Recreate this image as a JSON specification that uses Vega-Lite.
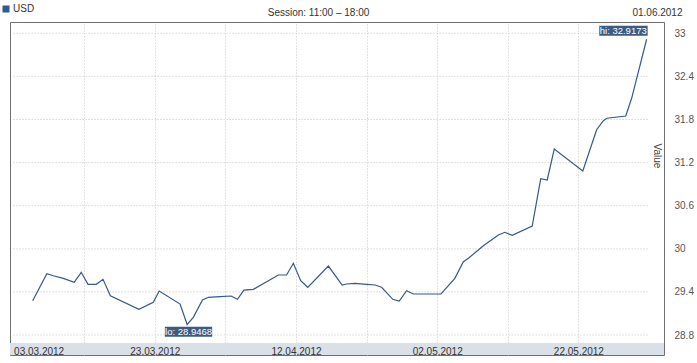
{
  "$schema": "https://vega.github.io/schema/vega-lite/v6.json",
  "width": 654,
  "height": 333,
  "autosize": "none",
  "padding": {"left": 10, "top": 22, "right": 33, "bottom": 8},
  "background": "white",
  "config": {
    "font": "Liberation Sans",
    "view": {"stroke": "#6e6e6e", "strokeWidth": 1}
  },
  "datasets": {
    "usd": [
      {"date": "2012-03-05T17:00:00", "value": 29.277, "currency": "USD"},
      {"date": "2012-03-07T17:00:00", "value": 29.653, "currency": "USD"},
      {"date": "2012-03-08T15:00:00", "value": 29.625, "currency": "USD"},
      {"date": "2012-03-10T01:00:00", "value": 29.589, "currency": "USD"},
      {"date": "2012-03-11T14:00:00", "value": 29.533, "currency": "USD"},
      {"date": "2012-03-12T14:00:00", "value": 29.673, "currency": "USD"},
      {"date": "2012-03-13T13:00:00", "value": 29.506, "currency": "USD"},
      {"date": "2012-03-14T17:00:00", "value": 29.506, "currency": "USD"},
      {"date": "2012-03-15T16:00:00", "value": 29.575, "currency": "USD"},
      {"date": "2012-03-16T17:00:00", "value": 29.347, "currency": "USD"},
      {"date": "2012-03-20T18:00:00", "value": 29.158, "currency": "USD"},
      {"date": "2012-03-22T19:00:00", "value": 29.255, "currency": "USD"},
      {"date": "2012-03-23T15:00:00", "value": 29.412, "currency": "USD"},
      {"date": "2012-03-26T14:00:00", "value": 29.231, "currency": "USD"},
      {"date": "2012-03-27T14:00:00", "value": 28.9468, "currency": "USD"},
      {"date": "2012-03-28T11:00:00", "value": 29.046, "currency": "USD"},
      {"date": "2012-03-29T18:00:00", "value": 29.287, "currency": "USD"},
      {"date": "2012-03-30T14:00:00", "value": 29.325, "currency": "USD"},
      {"date": "2012-04-01T06:00:00", "value": 29.333, "currency": "USD"},
      {"date": "2012-04-02T19:00:00", "value": 29.343, "currency": "USD"},
      {"date": "2012-04-03T17:00:00", "value": 29.297, "currency": "USD"},
      {"date": "2012-04-04T15:00:00", "value": 29.426, "currency": "USD"},
      {"date": "2012-04-05T23:00:00", "value": 29.436, "currency": "USD"},
      {"date": "2012-04-09T12:00:00", "value": 29.635, "currency": "USD"},
      {"date": "2012-04-10T16:00:00", "value": 29.635, "currency": "USD"},
      {"date": "2012-04-11T15:00:00", "value": 29.798, "currency": "USD"},
      {"date": "2012-04-12T16:00:00", "value": 29.556, "currency": "USD"},
      {"date": "2012-04-13T16:00:00", "value": 29.464, "currency": "USD"},
      {"date": "2012-04-16T14:00:00", "value": 29.760, "currency": "USD"},
      {"date": "2012-04-18T13:00:00", "value": 29.496, "currency": "USD"},
      {"date": "2012-04-19T04:00:00", "value": 29.510, "currency": "USD"},
      {"date": "2012-04-20T09:00:00", "value": 29.520, "currency": "USD"},
      {"date": "2012-04-22T00:00:00", "value": 29.506, "currency": "USD"},
      {"date": "2012-04-23T05:00:00", "value": 29.496, "currency": "USD"},
      {"date": "2012-04-24T03:00:00", "value": 29.464, "currency": "USD"},
      {"date": "2012-04-25T17:00:00", "value": 29.297, "currency": "USD"},
      {"date": "2012-04-26T15:00:00", "value": 29.273, "currency": "USD"},
      {"date": "2012-04-27T16:00:00", "value": 29.417, "currency": "USD"},
      {"date": "2012-04-28T15:00:00", "value": 29.371, "currency": "USD"},
      {"date": "2012-05-02T13:00:00", "value": 29.371, "currency": "USD"},
      {"date": "2012-05-04T12:00:00", "value": 29.589, "currency": "USD"},
      {"date": "2012-05-05T17:00:00", "value": 29.820, "currency": "USD"},
      {"date": "2012-05-06T10:00:00", "value": 29.868, "currency": "USD"},
      {"date": "2012-05-08T13:00:00", "value": 30.043, "currency": "USD"},
      {"date": "2012-05-10T16:00:00", "value": 30.192, "currency": "USD"},
      {"date": "2012-05-11T14:00:00", "value": 30.230, "currency": "USD"},
      {"date": "2012-05-12T15:00:00", "value": 30.188, "currency": "USD"},
      {"date": "2012-05-15T11:00:00", "value": 30.317, "currency": "USD"},
      {"date": "2012-05-16T16:00:00", "value": 30.976, "currency": "USD"},
      {"date": "2012-05-17T14:00:00", "value": 30.958, "currency": "USD"},
      {"date": "2012-05-18T14:00:00", "value": 31.389, "currency": "USD"},
      {"date": "2012-05-22T15:00:00", "value": 31.083, "currency": "USD"},
      {"date": "2012-05-24T14:00:00", "value": 31.658, "currency": "USD"},
      {"date": "2012-05-25T13:00:00", "value": 31.783, "currency": "USD"},
      {"date": "2012-05-26T01:00:00", "value": 31.817, "currency": "USD"},
      {"date": "2012-05-28T17:00:00", "value": 31.849, "currency": "USD"},
      {"date": "2012-05-29T13:00:00", "value": 32.095, "currency": "USD"},
      {"date": "2012-05-31T16:00:00", "value": 32.9173, "currency": "USD"}
    ],
    "extremes": [
      {"date": "2012-03-27T14:00:00", "value": 28.9468, "kind": "lo", "label": "lo: 28.9468"},
      {"date": "2012-05-31T16:00:00", "value": 32.9173, "kind": "hi", "label": "hi: 32.9173"}
    ],
    "levels": [
      {"v": 28.8}, {"v": 29.4}, {"v": 30}, {"v": 30.6},
      {"v": 31.2}, {"v": 31.8}, {"v": 32.4}, {"v": 33}
    ]
  },
  "layer": [
    {
      "data": {"name": "levels"},
      "mark": {"type": "rule", "color": "#c4c4c4", "strokeDash": [1, 2], "strokeWidth": 1},
      "encoding": {
        "x": {"datum": {"year": 2012, "month": 3, "date": 3}, "type": "temporal", "axis": null,
              "scale": {"domain": [{"year": 2012, "month": 3, "date": 2, "hours": 11, "minutes": 48}, {"year": 2012, "month": 6, "date": 3, "hours": 3}]}},
        "x2": {"datum": {"year": 2012, "month": 6, "date": 1}},
        "y": {"field": "v", "type": "quantitative",
              "scale": {"domain": [28.5216, 33.1573], "nice": false, "zero": false},
              "axis": {
                "orient": "right",
                "values": [28.8, 29.4, 30, 30.6, 31.2, 31.8, 32.4, 33],
                "format": "~g",
                "grid": false, "ticks": false, "domain": false,
                "labelPadding": 10, "labelAlign": "left", "labelBaseline": "middle",
                "labelFontSize": 10, "labelColor": "#555555",
                "title": "Value", "titleX": -8, "titleY": 133.5, "titleAngle": 90,
                "titleAlign": "center", "titleBaseline": "middle",
                "titleFontSize": 10, "titleFontWeight": "normal", "titleColor": "#444444",
                "zindex": 1
              }}
      }
    },
    {
      "data": {"values": [{}]},
      "mark": {"type": "rect", "color": "#d9e0e7"},
      "encoding": {
        "y": {"datum": 28.5216, "type": "quantitative", "axis": null,
              "scale": {"domain": [28.5216, 33.1573], "nice": false, "zero": false}},
        "y2": {"datum": 28.6886}
      }
    },
    {
      "data": {"name": "usd"},
      "mark": {"type": "line", "strokeWidth": 1.2},
      "encoding": {
        "x": {"field": "date", "type": "temporal",
              "scale": {"domain": [{"year": 2012, "month": 3, "date": 2, "hours": 11, "minutes": 48}, {"year": 2012, "month": 6, "date": 3, "hours": 3}]},
              "axis": {
                "orient": "bottom",
                "values": [
                  {"year": 2012, "month": 3, "date": 3},
                  {"year": 2012, "month": 3, "date": 23},
                  {"year": 2012, "month": 4, "date": 12},
                  {"year": 2012, "month": 5, "date": 2},
                  {"year": 2012, "month": 5, "date": 22}
                ],
                "format": "%d.%m.%Y",
                "labelFlush": 5,
                "labelOverlap": false,
                "labelBound": false,
                "grid": false, "ticks": false, "domain": false,
                "labelPadding": -1, "labelBaseline": "alphabetic",
                "labelFontSize": 10, "labelColor": "#333333",
                "title": null, "zindex": 1
              }},
        "y": {"field": "value", "type": "quantitative", "axis": null,
              "scale": {"domain": [28.5216, 33.1573], "nice": false, "zero": false}},
        "color": {"field": "currency", "type": "nominal",
                  "scale": {"range": ["#34598a"]},
                  "legend": {
                    "orient": "none", "legendX": -9, "legendY": -18, "title": null,
                    "symbolType": "square", "symbolSize": 49,
                    "symbolFillColor": "#34598a", "symbolStrokeWidth": 0,
                    "labelFontSize": 10, "labelColor": "#333333", "labelOffset": 2,
                    "padding": 0
                  }}
      }
    },
    {
      "data": {"name": "extremes"},
      "transform": [{"filter": "datum.kind == 'hi'"}],
      "mark": {"type": "rect", "color": "#3c5b82", "xOffset": -47.4, "x2Offset": 1, "yOffset": -13.5, "y2Offset": -3.5},
      "encoding": {
        "x": {"field": "date", "type": "temporal", "axis": null,
              "scale": {"domain": [{"year": 2012, "month": 3, "date": 2, "hours": 11, "minutes": 48}, {"year": 2012, "month": 6, "date": 3, "hours": 3}]}},
        "x2": {"field": "date"},
        "y": {"field": "value", "type": "quantitative", "axis": null,
              "scale": {"domain": [28.5216, 33.1573], "nice": false, "zero": false}},
        "y2": {"field": "value"}
      }
    },
    {
      "data": {"name": "extremes"},
      "transform": [{"filter": "datum.kind == 'lo'"}],
      "mark": {"type": "rect", "color": "#3c5b82", "xOffset": -22.3, "x2Offset": 25, "yOffset": 2.3, "y2Offset": 12.3},
      "encoding": {
        "x": {"field": "date", "type": "temporal", "axis": null,
              "scale": {"domain": [{"year": 2012, "month": 3, "date": 2, "hours": 11, "minutes": 48}, {"year": 2012, "month": 6, "date": 3, "hours": 3}]}},
        "x2": {"field": "date"},
        "y": {"field": "value", "type": "quantitative", "axis": null,
              "scale": {"domain": [28.5216, 33.1573], "nice": false, "zero": false}},
        "y2": {"field": "value"}
      }
    },
    {
      "data": {"name": "extremes"},
      "transform": [{"filter": "datum.kind == 'lo'"}],
      "mark": {"type": "text", "color": "white", "fontSize": 9.5, "align": "center", "baseline": "alphabetic", "dx": 1.4, "dy": 11},
      "encoding": {
        "x": {"field": "date", "type": "temporal", "axis": null,
              "scale": {"domain": [{"year": 2012, "month": 3, "date": 2, "hours": 11, "minutes": 48}, {"year": 2012, "month": 6, "date": 3, "hours": 3}]}},
        "y": {"field": "value", "type": "quantitative", "axis": null,
              "scale": {"domain": [28.5216, 33.1573], "nice": false, "zero": false}},
        "text": {"field": "label"}
      }
    },
    {
      "data": {"name": "extremes"},
      "transform": [{"filter": "datum.kind == 'hi'"}],
      "mark": {"type": "text", "color": "white", "fontSize": 9.5, "align": "center", "baseline": "alphabetic", "dx": -23.4, "dy": -5.4},
      "encoding": {
        "x": {"field": "date", "type": "temporal",
              "scale": {"domain": [{"year": 2012, "month": 3, "date": 2, "hours": 11, "minutes": 48}, {"year": 2012, "month": 6, "date": 3, "hours": 3}]},
              "axis": {
                "orient": "top",
                "values": [
                  {"year": 2012, "month": 3, "date": 13},
                  {"year": 2012, "month": 3, "date": 23},
                  {"year": 2012, "month": 4, "date": 2},
                  {"year": 2012, "month": 4, "date": 12},
                  {"year": 2012, "month": 4, "date": 22},
                  {"year": 2012, "month": 5, "date": 2},
                  {"year": 2012, "month": 5, "date": 12},
                  {"year": 2012, "month": 5, "date": 22},
                  {"year": 2012, "month": 6, "date": 1}
                ],
                "grid": true, "gridColor": "#c4c4c4", "gridDash": [1, 2],
                "gridOpacity": {"condition": {"test": "month(datum.value) == 5", "value": 0}, "value": 1},
                "ticks": false, "domain": false,
                "labelExpr": "month(datum.value) == 5 ? timeFormat(datum.value, '%d.%m.%Y') : ''",
                "labelAlign": "right", "labelOffset": 33, "labelBaseline": "alphabetic", "labelPadding": 7,
                "labelFontSize": 10, "labelColor": "#333333",
                "labelOverlap": false, "labelBound": false,
                "title": "Session: 11:00 – 18:00", "titleX": 308, "titleY": -7,
                "titleAlign": "center", "titleBaseline": "alphabetic",
                "titleFontSize": 10, "titleFontWeight": "normal", "titleColor": "#333333",
                "zindex": 0
              }},
        "y": {"field": "value", "type": "quantitative", "axis": null,
              "scale": {"domain": [28.5216, 33.1573], "nice": false, "zero": false}},
        "text": {"field": "label"}
      }
    }
  ],
  "resolve": {"axis": {"x": "independent", "y": "independent"}}
}
